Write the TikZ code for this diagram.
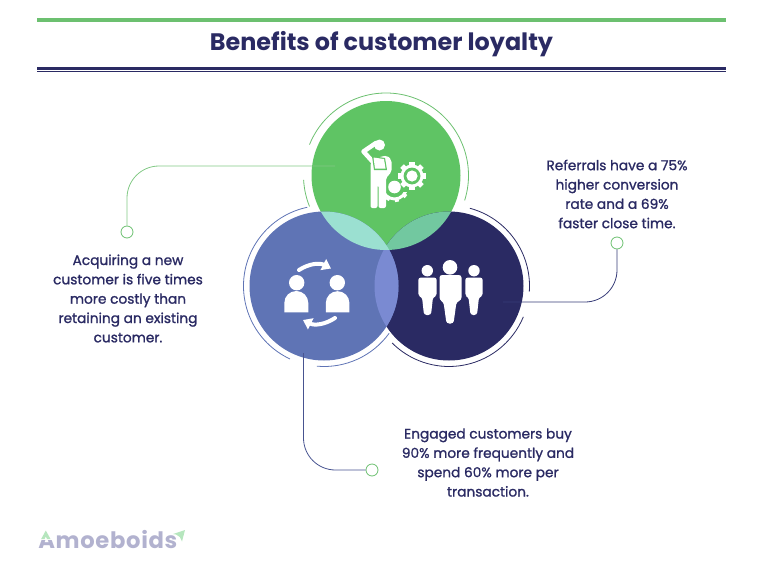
\documentclass[tikz,border=0pt]{standalone}
\usepackage{fontspec}
\setmainfont{Poppins}
\newfontfamily\bodyfont[FakeBold=1.2]{Poppins}
\newfontfamily\titlefont{Poppins}
\newfontfamily\logofont[LetterSpace=3]{Poppins}
\definecolor{deep}{RGB}{42,42,99}
\definecolor{leafgreen}{RGB}{95,196,100}
\definecolor{rulegreen}{RGB}{108,192,112}
\definecolor{midblue}{RGB}{95,116,181}
\definecolor{tealmix}{RGB}{155,224,209}
\definecolor{mossmix}{RGB}{114,200,160}
\definecolor{lilacmix}{RGB}{122,138,210}
\definecolor{logogray}{RGB}{178,178,207}
\definecolor{logogreen}{RGB}{182,230,190}
\usetikzlibrary{arrows.meta, positioning, calc}

\begin{document}
\begin{tikzpicture}[x=0.75pt, y=0.75pt,
  >=Stealth,
  blurb/.style={
    align=center, text=deep, inner sep=0pt,
    font={\bodyfont\fontsize{10.3}{14.5}\selectfont},
  },
  ringline/.style={line width=0.6pt},
  lead/.style={line width=0.6pt, rounded corners=24pt},
  enddot/.style={
    circle, draw, fill=white, line width=0.6pt,
    minimum size=9pt, inner sep=0pt,
  },
  glyph/.style={fill=white, draw=none},
  swoosh/.style={draw=white, line width=3pt, line cap=round},
]
\useasboundingbox (0,-575) rectangle (764,0);

% --- Title and rules ---
\coordinate (rl1) at (37,-20);   \coordinate (rr1) at (726,-20);
\coordinate (rl2) at (37,-68.5); \coordinate (rr2) at (726,-68.5);
\coordinate (rl3) at (37,-71.8); \coordinate (rr3) at (726,-71.8);
\draw[rulegreen, line width=2.3pt] (rl1) -- (rr1);
\draw[deep, line width=2.3pt] (rl2) -- (rr2);
\draw[deep, line width=0.8pt] (rl3) -- (rr3);
\node[text=deep, font={\titlefont\bfseries\fontsize{17.9}{20}\selectfont}] (title) at (381.5,-44) {Benefits of customer loyalty};

% --- Circles ---
\coordinate (cg) at (386,-175.5);
\coordinate (cb) at (324,-286);
\coordinate (cn) at (449,-286);
\fill[leafgreen] (cg) circle (74.5);
\fill[deep] (cn) circle (74.5);
\fill[midblue] (cb) circle (74.5);
\begin{scope}
  \clip (cb) circle (74.5);
  \fill[lilacmix] (cn) circle (74.5);
\end{scope}
\begin{scope}
  \clip (cg) circle (74.5);
  \fill[mossmix] (cn) circle (74.5);
  \fill[tealmix] (cb) circle (74.5);
\end{scope}

% --- Rings ---
\draw[ringline, rulegreen] (cg) ++(158:82.5) arc[start angle=158, end angle=-17.6, radius=82.5];
\draw[ringline, rulegreen] (cg) ++(183:82.5) arc[start angle=183, end angle=202, radius=82.5];
\draw[ringline, midblue] (cb) ++(102:80.5) arc[start angle=102, end angle=245, radius=80.5];
\draw[ringline, midblue] (cb) ++(265:80.5) arc[start angle=265, end angle=324, radius=80.5];
\draw[ringline, deep] (cn) ++(75:80.5) arc[start angle=75, end angle=-4, radius=80.5];
\draw[ringline, deep] (cn) ++(-22.5:80.5) arc[start angle=-22.5, end angle=-135, radius=80.5];

% --- Leads ---
\node[enddot, draw=rulegreen] (dotg) at (127,-232) {};
\node[enddot, draw=rulegreen] (dotn) at (617,-243) {};
\node[enddot, draw=rulegreen] (dotb) at (372,-470) {};
\coordinate (startg) at (335,-166);
\coordinate (startn) at (503,-302);
\coordinate (startb) at (303.5,-353);
\draw[lead, rulegreen!85!white] (startg) -| (dotg);
\draw[lead, deep!75!midblue] (startn) -| (dotn);
\draw[lead, deep!45!midblue] (startb) |- (dotb);

% --- Texts ---
\node[blurb] (acquire) at (128,-298.5) {Acquiring a new\\customer is five times\\more costly than\\retaining an existing\\customer.};
\node[blurb] (refer) at (617,-194) {Referrals have a 75\%\\higher conversion\\rate and a 69\%\\faster close time.};
\node[blurb] (engage) at (488,-462.5) {Engaged customers buy\\90\% more frequently and\\spend 60\% more per\\transaction.};

% --- Team icon ---
\fill[glyph] (450,-267.3) circle (7.3);
\fill[glyph] (427.3,-270.7) circle (5.7);
\fill[glyph] (474,-270.7) circle (5.7);
\fill[glyph, rounded corners=2pt] (439.5,-300) -- (439.5,-275) -- (461.5,-275) -- (461.5,-300) -- (456.5,-302) -- (453.5,-323.5) -- (446.5,-323.5) -- (443.5,-302) -- cycle;
\fill[glyph, rounded corners=2pt] (418.3,-296) -- (418.3,-277.5) -- (436.7,-277.5) -- (436.7,-296) -- (433,-297) -- (431,-315) -- (424,-315) -- (422,-297) -- cycle;
\fill[glyph, rounded corners=2pt] (465.3,-296) -- (465.3,-277.5) -- (482.7,-277.5) -- (482.7,-296) -- (479,-297) -- (477,-315) -- (470.5,-315) -- (468.5,-297) -- cycle;

% --- Exchange icon ---
\fill[glyph] (296.7,-282.7) circle (7.7);
\fill[glyph] (337.3,-282.7) circle (7.7);
\fill[glyph] (284.3,-312.3) -- (284.3,-303) arc[start angle=180, end angle=0, radius=12] -- (308.3,-312.3) -- cycle;
\fill[glyph] (325.8,-312.3) -- (325.8,-303) arc[start angle=180, end angle=0, radius=11.8] -- (349.4,-312.3) -- cycle;
\draw[swoosh, -{Triangle[length=6.5pt, width=9pt]}] (299,-270) to[bend left=30] (331,-268.5);
\draw[swoosh, -{Triangle[length=6.5pt, width=9pt]}] (335,-318) to[bend left=30] (303,-320);

% --- Worker icon ---
\fill[glyph] (379.5,-145) circle (5.5);
\draw[white, line width=3.4pt, line cap=round, line join=round] (376,-143) -- (363.5,-151.5) -- (373,-162);
\fill[glyph, rounded corners=1.5pt] (370.5,-163) -- (375,-158) -- (387,-155.5) -- (391.5,-160) -- (391.5,-172) -- (386,-178) -- (386,-208) -- (378.5,-208) -- (378.5,-185) -- (377.5,-185) -- (377.5,-208) -- (370.5,-208) -- cycle;
\fill[leafgreen] (372,-156) -- (385,-158) -- (387,-170) -- (374,-170) -- cycle;
\fill[glyph] (373.5,-157.5) -- (384,-159) -- (385.5,-168.5) -- (375,-168.5) -- cycle;

% big gear
\fill[glyph] (412,-176) circle (11.5);
\foreach \ang in {0,45,...,315} {
  \fill[glyph, shift={(412,-176)}, rotate=\ang] (-2.6,9) rectangle (2.6,14);
}
\fill[leafgreen] (412,-176) circle (8.4);
\fill[glyph] (412,-176) circle (5.6);

% small gear
\fill[glyph] (394.5,-187) circle (6.3);
\begin{scope}
  \clip (384,-192) rectangle (408,-206);
  \draw[white, line width=2.2pt] (394.5,-187) circle (12);
  \foreach \ang in {200,240,...,340} {
    \fill[glyph, shift={(394.5,-187)}, rotate=\ang] (11,-2) rectangle (15,2);
  }
\end{scope}

% --- Logo ---
\node[anchor=base west, inner sep=0pt, text=logogray, font={\logofont\bfseries\fontsize{17}{20}\selectfont}] (logo) at (38,-548.5) {Amoeboids};
\fill[white] (38,-530) rectangle (54,-539.5);
\fill[logogreen] (45.8,-530.5) -- (50.5,-539) -- (47,-539) -- (45.8,-536.5) -- (44.5,-539) -- (41.2,-539) -- cycle;
\fill[logogreen] (173,-534) -- (185,-530) -- (182,-541.5) -- (179.8,-537) -- (176,-534.5) -- cycle;

\end{tikzpicture}
\end{document}
